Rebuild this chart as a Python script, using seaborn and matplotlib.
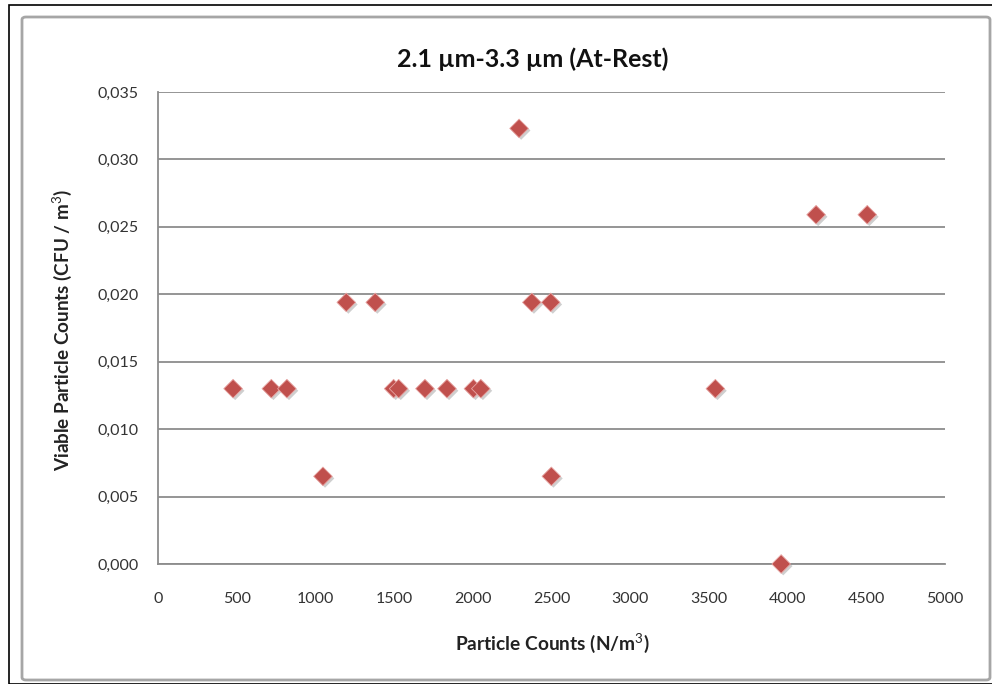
import matplotlib
matplotlib.use("Agg")
import matplotlib.pyplot as plt
import matplotlib.patheffects as pe
from matplotlib.patches import FancyBboxPatch, Rectangle
import seaborn as sns
import pandas as pd

# Data
particle_counts = [477, 720, 819, 1048, 1196, 1380, 1497, 1529, 1696, 1836,
                   2004, 2051, 2294, 2375, 2495, 2499, 3541, 3959, 4181, 4506]
viable_counts = [0.0130, 0.0130, 0.0130, 0.0065, 0.0194, 0.0194, 0.0130, 0.0130, 0.0130, 0.0130,
                 0.0130, 0.0130, 0.0323, 0.0194, 0.0194, 0.0065, 0.0130, 0.0000, 0.0259, 0.0259]

x_ticks = [0, 500, 1000, 1500, 2000, 2500, 3000, 3500, 4000, 4500, 5000]
y_ticks = [0.000, 0.005, 0.010, 0.015, 0.020, 0.025, 0.030, 0.035]
y_tick_labels = ["0,000", "0,005", "0,010", "0,015", "0,020", "0,025", "0,030", "0,035"]

title = "2.1 µm-3.3 µm (At-Rest)"
x_label = "Particle Counts (N/m$^3$)"
y_label = "Viable Particle Counts (CFU / m$^3$)"

sns.set_style("white")
plt.rcParams['font.family'] = ['Lato', 'DejaVu Sans']
plt.rcParams['mathtext.fontset'] = 'custom'
plt.rcParams['mathtext.rm'] = 'Lato'
plt.rcParams['mathtext.bf'] = 'Lato:bold'

W, H = 992, 684
fig = plt.figure(figsize=(W / 100, H / 100), dpi=100)
fig.patch.set_facecolor("white")

# outer frames
fig.add_artist(Rectangle((9 / W, 0), (W - 9) / W + 0.01, (H - 5) / H, transform=fig.transFigure,
                         fill=False, edgecolor="black", linewidth=1.2, zorder=0))
fig.add_artist(FancyBboxPatch((22 / W, (H - 680) / H), (990 - 22) / W, (680 - 17) / H,
                              boxstyle="round,pad=0,rounding_size=0.004",
                              transform=fig.transFigure, fill=False,
                              edgecolor="#a6a6a6", linewidth=2.0, zorder=0))

ax = fig.add_axes([158 / W, 1 - 564 / H, (945 - 158) / W, (564 - 92) / H])

df = pd.DataFrame({"x": particle_counts, "y": viable_counts})
sns.scatterplot(data=df, x="x", y="y", ax=ax, marker="D", s=90,
                color="#C0504D", edgecolor="#e8a6a4", linewidth=0.6, zorder=5, clip_on=False)
for coll in ax.collections:
    coll.set_path_effects([pe.SimplePatchShadow(offset=(1.5, -1.5), shadow_rgbFace="#777777", alpha=0.35),
                           pe.Normal()])

ax.set_xlim(0, 5000)
ax.set_ylim(0, 0.035)
ax.set_xticks(x_ticks)
ax.set_xticklabels([str(t) for t in x_ticks])
ax.set_yticks(y_ticks)
ax.set_yticklabels(y_tick_labels)

ax.grid(axis="y", color="#8c8c8c", linewidth=1.3)
ax.grid(axis="x", visible=False)
ax.set_axisbelow(True)
for side in ["top", "right"]:
    ax.spines[side].set_visible(False)
for side in ["left", "bottom"]:
    ax.spines[side].set_color("#8c8c8c")
    ax.spines[side].set_linewidth(1.3)

ax.tick_params(axis="y", length=0, labelsize=11.5, labelcolor="#333333", pad=14)
ax.tick_params(axis="x", length=0, labelsize=11.5, labelcolor="#333333", pad=20)

ax.set_xlabel("")
ax.set_ylabel("")
fig.text(552 / W, 1 - 643 / H, x_label, ha="center", va="center", fontsize=13.8,
         fontweight="bold", color="#222222")
fig.text(62 / W, 1 - 330 / H, y_label, ha="center", va="center", rotation=90,
         fontsize=13.6, fontweight="bold", color="#222222")
fig.text(533 / W, 1 - 59 / H, title, ha="center", va="center", fontsize=18,
         fontweight="bold", color="#111111")

fig.savefig("out.png", dpi=100, facecolor="white")
